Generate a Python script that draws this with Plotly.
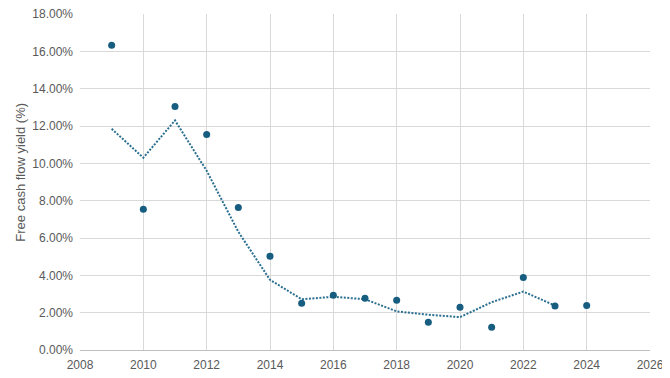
import plotly.graph_objects as go

years = [2009, 2010, 2011, 2012, 2013, 2014, 2015, 2016, 2017, 2018, 2019, 2020, 2021, 2022, 2023, 2024]
fcf_yield = [0.1632, 0.0754, 0.1305, 0.1155, 0.0764, 0.0502, 0.0250, 0.0293, 0.0277, 0.0266,
             0.0148, 0.0229, 0.0122, 0.0389, 0.0236, 0.0239]
trend_years = [2009, 2010, 2011, 2012, 2013, 2014, 2015, 2016, 2017, 2018, 2019, 2020, 2021, 2022, 2023]
trend_vals = [0.1185, 0.1030, 0.1230, 0.0960, 0.0633, 0.0376, 0.0272, 0.0285, 0.0272, 0.0207,
              0.0189, 0.0176, 0.0256, 0.0313, 0.0238]
y_title = "Free cash flow yield (%)"

fig = go.Figure()
fig.add_trace(go.Scatter(x=trend_years, y=trend_vals, mode="lines",
                         line=dict(color="#2a6f91", width=2, dash="2px,1.5px"),
                         hoverinfo="skip", showlegend=False))
fig.add_trace(go.Scatter(x=years, y=fcf_yield, mode="markers",
                         marker=dict(color="#175d80", size=7),
                         showlegend=False))

fig.update_layout(
    width=662, height=370,
    margin=dict(l=71.5, r=20, t=6, b=28, autoexpand=False),
    paper_bgcolor="white", plot_bgcolor="white",
    font=dict(family="Liberation Sans, Arial, sans-serif", size=12, color="#595959"),
)
fig.add_annotation(text=y_title, xref="paper", yref="paper", x=-0.1034, y=0.528,
                   xanchor="center", yanchor="middle", textangle=-90, showarrow=False,
                   font=dict(size=13, color="#595959"))
fig.update_xaxes(range=[2008, 2026], dtick=2, tick0=2008, showgrid=True, gridcolor="#d9d9d9",
                 gridwidth=1, zeroline=False, showline=True, linecolor="#bfbfbf", linewidth=1,
                 ticks="", ticklabelstandoff=4, ticklabeloverflow="allow",
                 tickfont=dict(size=12, color="#595959"))
fig.update_yaxes(range=[0, 0.18], dtick=0.02, tickformat=".2%", showgrid=True,
                 gridcolor="#d9d9d9", gridwidth=1, zeroline=False, showline=False,
                 ticks="", ticklabelstandoff=6, ticklabeloverflow="allow",
                 tickfont=dict(size=12, color="#595959"))

fig.write_html("out.html")
